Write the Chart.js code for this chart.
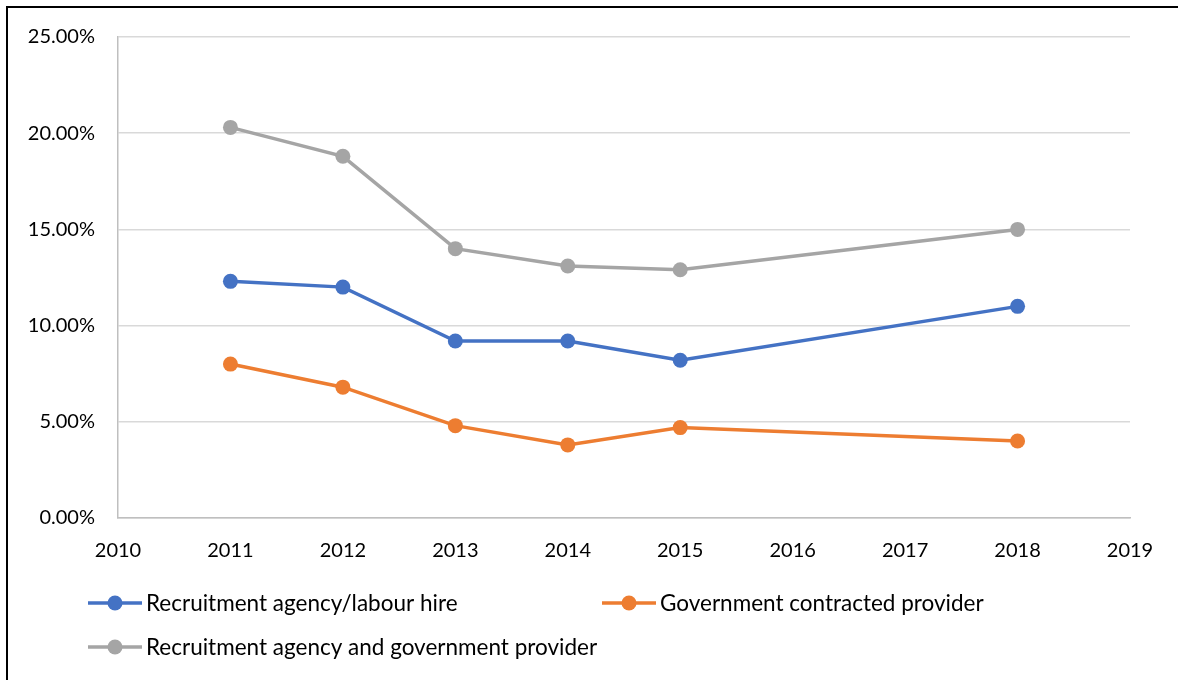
<!DOCTYPE html>
<html>
<head>
<meta charset="utf-8">
<style>
  html, body { margin: 0; padding: 0; background: #fff; }
  #wrap { position: relative; width: 1178px; height: 680px; }
  canvas { display: block; }
</style>
<script src="https://cdn.jsdelivr.net/npm/chart.js@4/dist/chart.umd.min.js"></script>
</head>
<body>
<div id="wrap"><canvas id="c" width="1178" height="680"></canvas></div>
<script>
// Survey years and share of respondents (%) by source of help
const years = [2011, 2012, 2013, 2014, 2015, 2018];
const agencyLabourHire = [12.3, 12.0, 9.2, 9.2, 8.2, 11.0];
const govContracted = [8.0, 6.8, 4.8, 3.8, 4.7, 4.0];
const agencyAndGov = [20.3, 18.8, 14.0, 13.1, 12.9, 15.0];

const seriesNames = [
  'Recruitment agency/labour hire',
  'Government contracted provider',
  'Recruitment agency and government provider'
];
const seriesColors = ['#4472C4', '#ED7D31', '#A5A5A5'];

// Axis tick values
const xTickValues = [2010, 2011, 2012, 2013, 2014, 2015, 2016, 2017, 2018, 2019];
const yTickValues = [0, 5, 10, 15, 20, 25];

const FONT = 'Lato, "Liberation Sans", sans-serif';
const TICK_SIZE = 20;
const LEGEND_SIZE = 22.5;

const toPoints = arr => years.map((yr, i) => ({ x: yr, y: arr[i] }));
const seriesValues = [agencyLabourHire, govContracted, agencyAndGov];

const datasets = seriesValues.map((vals, i) => ({
  label: seriesNames[i],
  data: toPoints(vals),
  borderColor: seriesColors[i],
  backgroundColor: seriesColors[i],
  pointBackgroundColor: seriesColors[i],
  pointBorderColor: seriesColors[i],
  borderWidth: 3.5,
  pointRadius: 7.5,
  pointBorderWidth: 0,
  pointHoverRadius: 7.5,
  tension: 0,
  order: 2 - i
}));

// Frame lines around the figure and a two-row legend under the plot
const framePlugin = {
  id: 'frameAndLegend',
  afterDraw(chart) {
    const ctx = chart.ctx;
    ctx.save();
    ctx.strokeStyle = '#000';
    ctx.lineWidth = 2;
    ctx.beginPath();
    ctx.moveTo(7, 680);
    ctx.lineTo(7, 7);
    ctx.lineTo(1178, 7);
    ctx.stroke();

    const slots = [
      { x: 88, y: 603 },
      { x: 602, y: 603 },
      { x: 88, y: 647 }
    ];
    ctx.font = LEGEND_SIZE + 'px ' + FONT;
    ctx.textBaseline = 'middle';
    ctx.textAlign = 'left';
    chart.data.datasets.forEach((ds, i) => {
      const s = slots[i];
      ctx.strokeStyle = ds.borderColor;
      ctx.lineWidth = 3.5;
      ctx.beginPath();
      ctx.moveTo(s.x, s.y);
      ctx.lineTo(s.x + 54, s.y);
      ctx.stroke();
      ctx.fillStyle = ds.borderColor;
      ctx.beginPath();
      ctx.arc(s.x + 27, s.y, 7.5, 0, Math.PI * 2);
      ctx.fill();
      ctx.fillStyle = '#000';
      ctx.fillText(ds.label, s.x + 58, s.y + 1);
    });
    ctx.restore();
  }
};

new Chart(document.getElementById('c'), {
  type: 'line',
  data: { datasets },
  plugins: [framePlugin],
  options: {
    responsive: false,
    animation: false,
    events: [],
    layout: { padding: { left: 0, right: 48, top: 37, bottom: 0 } },
    plugins: {
      legend: { display: false },
      tooltip: { enabled: false }
    },
    scales: {
      x: {
        type: 'linear',
        min: xTickValues[0],
        max: xTickValues[xTickValues.length - 1],
        afterBuildTicks: s => { s.ticks = xTickValues.map(v => ({ value: v })); },
        afterFit: s => { s.height = 162; },
        grid: { display: false, drawTicks: false },
        border: { display: true, color: '#BFBFBF', width: 1.5 },
        ticks: {
          padding: 21,
          color: '#000',
          maxRotation: 0,
          autoSkip: false,
          font: { family: FONT, size: TICK_SIZE },
          callback: v => String(v)
        }
      },
      y: {
        min: yTickValues[0],
        max: yTickValues[yTickValues.length - 1],
        afterBuildTicks: s => { s.ticks = yTickValues.map(v => ({ value: v })); },
        afterFit: s => { s.width = 118; },
        grid: { color: '#D9D9D9', lineWidth: 1.5, drawTicks: false },
        border: { display: true, color: '#BFBFBF', width: 1.5 },
        ticks: {
          padding: 23,
          color: '#000',
          font: { family: FONT, size: TICK_SIZE },
          callback: v => v.toFixed(2) + '%'
        }
      }
    }
  }
});
</script>
</body>
</html>
